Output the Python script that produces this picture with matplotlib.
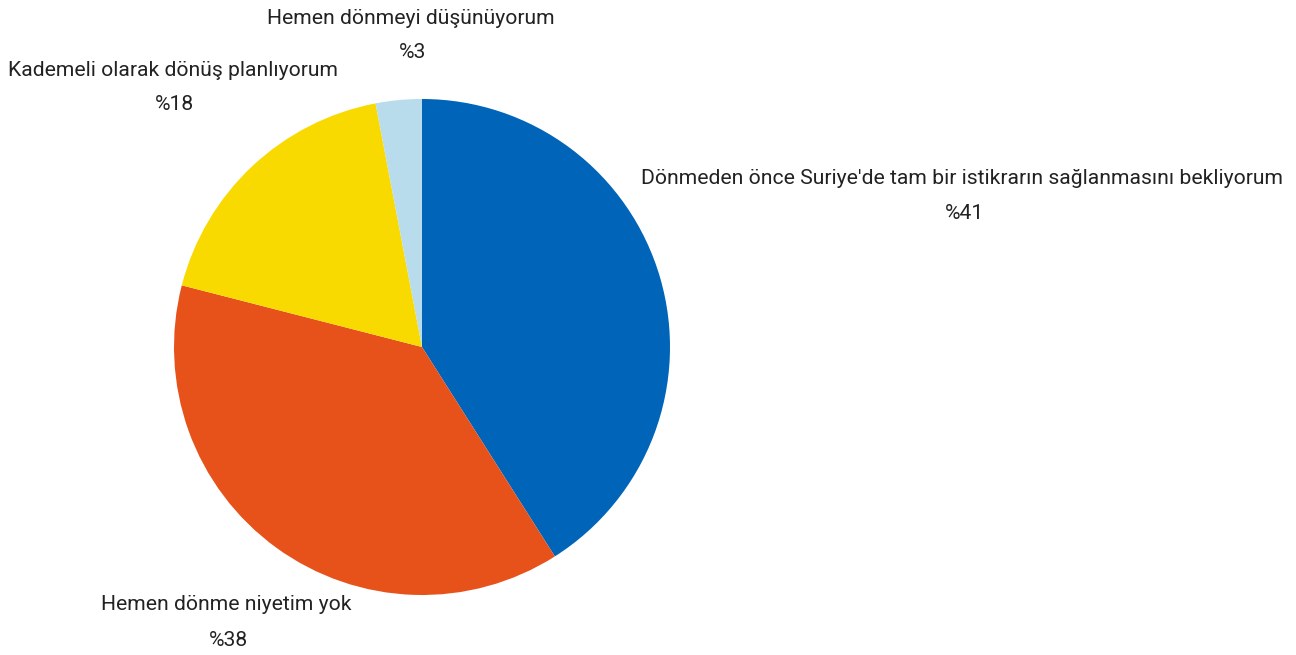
import matplotlib.pyplot as plt

labels = [
    "Dönmeden önce Suriye'de tam bir istikrarın sağlanmasını bekliyorum",
    "Hemen dönme niyetim yok",
    "Kademeli olarak dönüş planlıyorum",
    "Hemen dönmeyi düşünüyorum",
]
values = [41, 38, 18, 3]
colors = ["#0064B9", "#E6521A", "#F9DA00", "#B8DCEB"]

# label positions in figure pixels (x center, y of name line)
label_pos = [(962, 179), (226, 605), (173, 70), (411, 18)]

W, H = 1296, 655
fig = plt.figure(figsize=(W / 100, H / 100), dpi=100)
cx, cy, r = 422, 347, 248
ax = fig.add_axes([(cx - r) / W, (H - cy - r) / H, 2 * r / W, 2 * r / H])
ax.pie(values, colors=colors, startangle=90, counterclock=False,
       wedgeprops=dict(linewidth=0))
ax.set_xlim(-1, 1)
ax.set_ylim(-1, 1)
ax.set_aspect("equal")
ax.axis("off")

for lab, val, (x, y) in zip(labels, values, label_pos):
    fig.text(x / W, 1 - y / H, lab, ha="center", va="center",
             fontsize=15.2, color="#222222", family="Roboto")
    fig.text((x + 2) / W, 1 - (y + 35) / H, f"%{val}", ha="center", va="center",
             fontsize=15.2, color="#222222", family="Roboto")

fig.savefig("out.png", dpi=100)
